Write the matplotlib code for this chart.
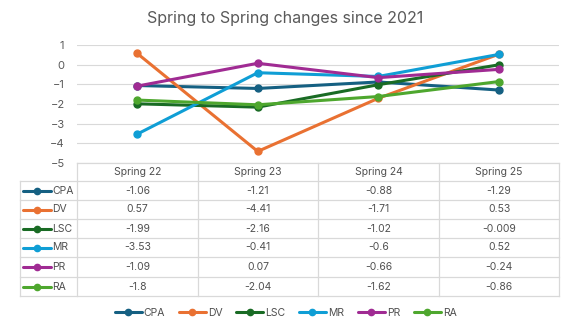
import matplotlib
matplotlib.use("Agg")
import matplotlib.pyplot as plt
from matplotlib.lines import Line2D

plt.rcParams['font.family'] = ['Inter', 'DejaVu Sans']

# data
seasons = ["Spring 22", "Spring 23", "Spring 24", "Spring 25"]
series_names = ["CPA", "DV", "LSC", "MR", "PR", "RA"]
cpa = [-1.06, -1.21, -0.88, -1.29]
dv = [0.57, -4.41, -1.71, 0.53]
lsc = [-1.99, -2.16, -1.02, -0.009]
mr = [-3.53, -0.41, -0.6, 0.52]
pr = [-1.09, 0.07, -0.66, -0.24]
ra = [-1.8, -2.04, -1.62, -0.86]
cell_text = [
    ["-1.06", "-1.21", "-0.88", "-1.29"],
    ["0.57", "-4.41", "-1.71", "0.53"],
    ["-1.99", "-2.16", "-1.02", "-0.009"],
    ["-3.53", "-0.41", "-0.6", "0.52"],
    ["-1.09", "0.07", "-0.66", "-0.24"],
    ["-1.8", "-2.04", "-1.62", "-0.86"],
]
colors = ["#156082", "#E97132", "#196B24", "#0F9ED5", "#A02B93", "#4EA72E"]
all_series = [cpa, dv, lsc, mr, pr, ra]

W, H = 571, 326
fig = plt.figure(figsize=(W / 100, H / 100), dpi=100)

def fx(px):
    return px / W

def fy(py):
    return 1 - py / H

# plot area
x0, x1 = 77, 559
y_top, y_bot = 45, 163
ax = fig.add_axes([fx(x0), fy(y_bot), fx(x1) - fx(x0), fy(y_top) - fy(y_bot)])
for vals, c, name in zip(all_series, colors, series_names):
    ax.plot(range(len(seasons)), vals, color=c, lw=2.2, marker='o', ms=5, label=name,
            solid_capstyle='round')
ax.set_xlim(-0.5, len(seasons) - 0.5)
ax.set_ylim(-5, 1)
ax.set_yticks(range(-5, 2))
ax.set_xticks([])
ax.grid(axis='y', color='#D9D9D9', lw=0.8)
ax.set_axisbelow(True)
for s in ax.spines.values():
    s.set_visible(False)
ax.tick_params(axis='y', length=0, labelsize=8, labelcolor='#595959', pad=9)

fig.text(0.5, fy(18), "Spring to Spring changes since 2021", ha='center', va='center',
         fontsize=11.5, color='#595959')

# data table
grid_c = '#D9D9D9'
txt_c = '#505050'
col_edges = [77, 198, 318, 439, 559]
row_edges = [163, 181, 200, 219, 238, 257, 277, 296]
tbl_left = 20

def hline(x_a, x_b, y):
    fig.add_artist(Line2D([fx(x_a), fx(x_b)], [fy(y), fy(y)], color=grid_c, lw=0.9))

def vline(x, y_a, y_b):
    fig.add_artist(Line2D([fx(x), fx(x)], [fy(y_a), fy(y_b)], color=grid_c, lw=0.9))

hline(col_edges[0], col_edges[-1], row_edges[0])
for y in row_edges[1:]:
    hline(tbl_left, col_edges[-1], y)
for x in col_edges:
    vline(x, row_edges[0], row_edges[-1])
vline(tbl_left, row_edges[1], row_edges[-1])

for j, s in enumerate(seasons):
    xc = (col_edges[j] + col_edges[j + 1]) / 2
    yc = (row_edges[0] + row_edges[1]) / 2
    fig.text(fx(xc), fy(yc), s, ha='center', va='center', fontsize=7.5, color=txt_c)

for i, name in enumerate(series_names):
    yc = (row_edges[i + 1] + row_edges[i + 2]) / 2
    fig.add_artist(Line2D([fx(23), fx(51)], [fy(yc), fy(yc)], color=colors[i], lw=2.2,
                          solid_capstyle='round'))
    fig.add_artist(Line2D([fx(37)], [fy(yc)], color=colors[i], marker='o', ms=4.5))
    fig.text(fx(52), fy(yc), name, ha='left', va='center', fontsize=7.5, color=txt_c)
    for j, txt in enumerate(cell_text[i]):
        xc = (col_edges[j] + col_edges[j + 1]) / 2
        fig.text(fx(xc), fy(yc), txt, ha='center', va='center', fontsize=7.5, color=txt_c)

# bottom legend
handles, labels = ax.get_legend_handles_labels()
leg = fig.legend(handles, labels, loc='center', bbox_to_anchor=(0.5, fy(313)), ncol=6,
                 frameon=False, fontsize=7.5, handlelength=2.6, handletextpad=0.2,
                 columnspacing=1.3, labelcolor=txt_c, markerscale=0.9)

fig.savefig("out.png", dpi=100)
